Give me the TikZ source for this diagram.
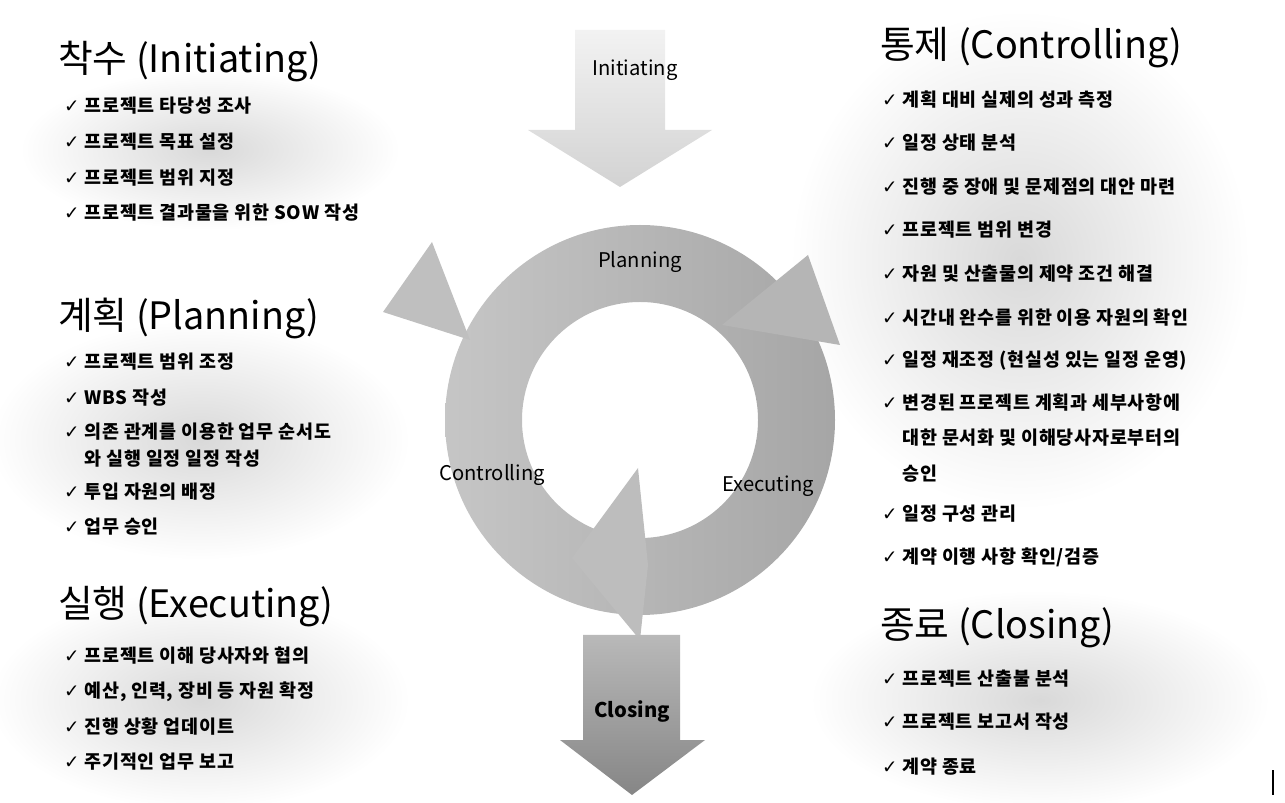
\documentclass[tikz,border=0pt]{standalone}
\usepackage{fontspec}
\setmainfont{Noto Sans CJK KR}
\newfontfamily\chk{DejaVu Sans}
\newfontfamily\itemfont[LetterSpace=4]{Noto Sans CJK KR}
\usetikzlibrary{shapes.geometric}
\tikzset{
  head/.style={anchor=west,font=\fontsize{21.5}{24}\selectfont},
  item/.style={anchor=west,font=\fontsize{10.5}{18}\selectfont\itemfont\bfseries,align=left},
  lab/.style={font=\fontsize{11.5}{13}\selectfont},
  blob/.style={inner color=gray!30,outer color=white,draw=none},
}
\newcommand{\ck}{{\chk\char"2713}\ }
\begin{document}
\begin{tikzpicture}[x=0.02cm,y=-0.02cm]
\useasboundingbox (0,0) rectangle (1285,803);
% background blobs
\shade[blob] (210,150) ellipse (190 and 80);
\shade[blob] (200,440) ellipse (210 and 120);
\shade[blob] (200,700) ellipse (210 and 110);
\shade[blob] (1020,260) ellipse (230 and 250);
\shade[blob] (1040,700) ellipse (230 and 110);
% Initiating arrow
\shade[top color=gray!10,bottom color=gray!35] (575,30) -- (665,30) -- (665,130) -- (712,130) -- (620,187) -- (528,130) -- (575,130) -- cycle;
\node[lab] (ini) at (635,70) {Initiating};
% ring
\shade[left color=gray!45,right color=gray!70,even odd rule] (640,420) circle (195) (640,420) circle (118);
\fill[gray!58] (840,345) -- (808,255) -- (722,325) -- cycle;
\fill[gray!50] (383,312) -- (432,242) -- (470,340) -- cycle;
\fill[gray!52] (572,558) -- (638,468) -- (648,565) -- (640,640) -- cycle;
\node[lab] (pl) at (640,262) {Planning};
\node[lab] (ex) at (768,486) {Executing};
\node[lab] (co) at (492,475) {Controlling};
% Closing arrow
\shade[top color=gray!55,bottom color=gray!95] (583,635) -- (680,635) -- (680,740) -- (705,740) -- (632,795) -- (560,740) -- (583,740) -- cycle;
\node[lab,font=\fontsize{11.5}{13}\selectfont\bfseries] (cl) at (632,712) {Closing};
\draw[line width=1pt] (1273,770) -- (1273,795);
% left texts
\node[head] (h1) at (52,62) {착수 (Initiating)};
\node[item] (a1) at (58,106) {\ck 프로젝트 타당성 조사};
\node[item] (a2) at (58,142) {\ck 프로젝트 목표 설정};
\node[item] (a3) at (58,178) {\ck 프로젝트 범위 지정};
\node[item] (a4) at (58,213) {\ck 프로젝트 결과물을 위한 SOW 작성};
\node[head] (h2) at (52,318) {계획 (Planning)};
\node[item] (b1) at (58,362) {\ck 프로젝트 범위 조정};
\node[item] (b2) at (58,398) {\ck WBS 작성};
\node[item] (b3) at (58,445) {\ck 의존 관계를 이용한 업무 순서도\\[-3pt]\phantom{\ck}와 실행 일정 일정 작성};
\node[item] (b4) at (58,492) {\ck 투입 자원의 배정};
\node[item] (b5) at (58,527) {\ck 업무 승인};
\node[head] (h3) at (52,607) {실행 (Executing)};
\node[item] (c1) at (58,656) {\ck 프로젝트 이해 당사자와 협의};
\node[item] (c2) at (58,692) {\ck 예산, 인력, 장비 등 자원 확정};
\node[item] (c3) at (58,727) {\ck 진행 상황 업데이트};
\node[item] (c4) at (58,762) {\ck 주기적인 업무 보고};
% right texts
\node[head] (h4) at (874,48) {통제 (Controlling)};
\node[item] (d1) at (876,100) {\ck 계획 대비 실제의 성과 측정};
\node[item] (d2) at (876,143) {\ck 일정 상태 분석};
\node[item] (d3) at (876,187) {\ck 진행 중 장애 및 문제점의 대안 마련};
\node[item] (d4) at (876,230) {\ck 프로젝트 범위 변경};
\node[item] (d5) at (876,274) {\ck 자원 및 산출물의 제약 조건 해결};
\node[item] (d6) at (876,318) {\ck 시간내 완수를 위한 이용 자원의 확인};
\node[item] (d7) at (876,361) {\ck 일정 재조정 (현실성 있는 일정 운영)};
\node[item] (d8) at (876,438) {\ck 변경된 프로젝트 계획과 세부사항에\\[2pt]\phantom{\ck}대한 문서화 및 이해당사자로부터의\\[2pt]\phantom{\ck}승인};
\node[item] (d9) at (876,514) {\ck 일정 구성 관리};
\node[item] (d10) at (876,557) {\ck 계약 이행 사항 확인/검증};
\node[head] (h5) at (874,628) {종료 (Closing)};
\node[item] (e1) at (876,679) {\ck 프로젝트 산출불 분석};
\node[item] (e2) at (876,722) {\ck 프로젝트 보고서 작성};
\node[item] (e3) at (876,767) {\ck 계약 종료};
\end{tikzpicture}
\end{document}
